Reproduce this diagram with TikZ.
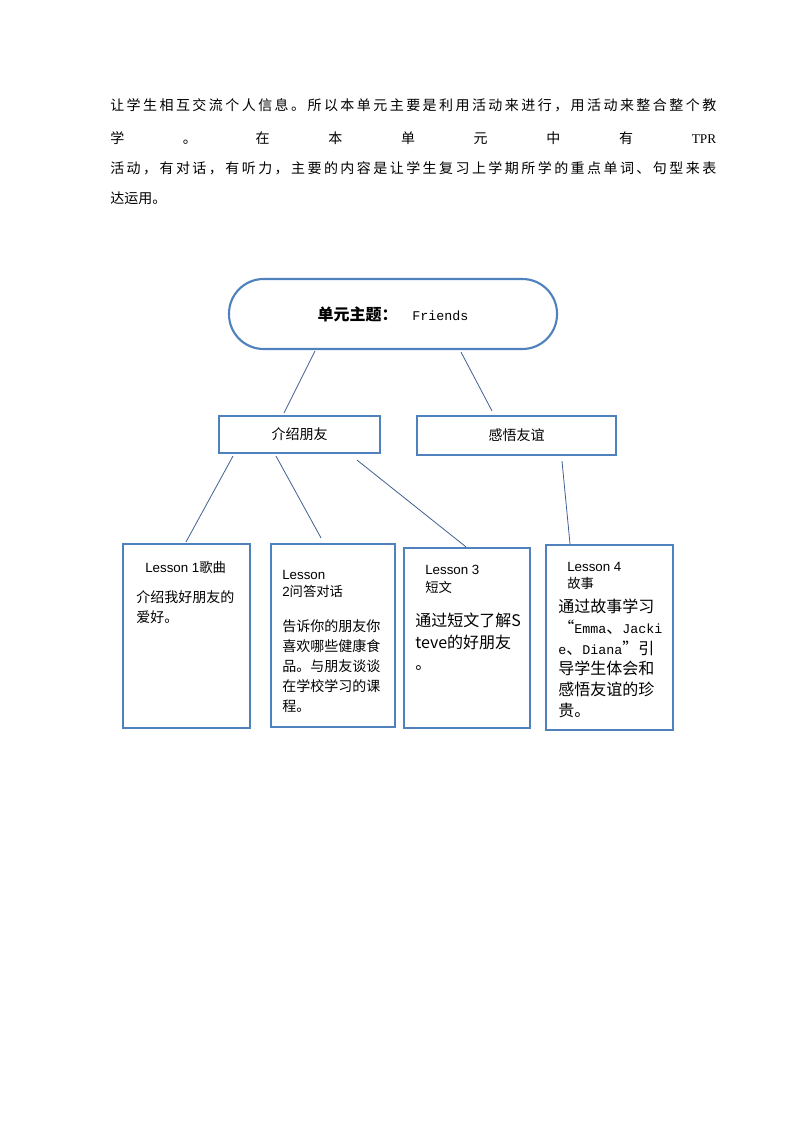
\documentclass[tikz,border=0pt]{standalone}
\usepackage{fontspec}
\setmainfont{Liberation Sans}
\newfontfamily\cjk{Noto Sans CJK SC}
\newfontfamily\simlatin{Liberation Mono}
\newfontfamily\simserif{Liberation Serif}
\usetikzlibrary{calc,positioning}
\definecolor{rahmenblau}{RGB}{79,129,189}
\definecolor{linienblau}{RGB}{62,96,145}
% Zeile im Blocksatz: Zeichen gleichmaessig verteilen
\def\sperrzeile#1{\hbox to 454.5pt{\sperrerst#1\relax}}
\def\sperrerst#1{#1\sperrweiter}
\def\sperrweiter#1{\ifx#1\relax\else\hfil#1\expandafter\sperrweiter\fi}

\begin{document}
\begin{tikzpicture}[x=0.75pt,y=-0.75pt,
        rahmen/.style={draw=rahmenblau,line width=1.6pt,inner sep=0pt},
        verbindung/.style={draw=linienblau,line width=0.6pt},
        zeile/.style={inner sep=0pt,anchor=west,font=\cjk\fontsize{10.5}{12}\selectfont},
        inhalt/.style={inner sep=0pt,anchor=north west,align=left}]
            \useasboundingbox (0,0) rectangle (794,1123);

            % Absatz oben
            \node[zeile] (absatz1) at (110,105)
                {\sperrzeile{让学生相互交流个人信息。所以本单元主要是利用活动来进行，用活动来整合整个教}};
            \node[zeile] (absatz2) at (110,138)
                {\hbox to 454.5pt{学\hfil 。\hfil 在\hfil 本\hfil 单\hfil 元\hfil 中\hfil 有\hfil {\simserif\fontsize{10}{12}\selectfont TPR}}};
            \node[zeile] (absatz3) at (110,168)
                {\sperrzeile{活动，有对话，有听力，主要的内容是让学生复习上学期所学的重点单词、句型来表}};
            \node[zeile] (absatz4) at (110,198) {达运用。};

            % Thema oben
            \node[rahmen,rounded corners=26pt,minimum width=246pt,minimum height=52.5pt] (thema) at (393,314)
                {{\cjk\bfseries\fontsize{12}{14}\selectfont 单元主题：}\hspace{11pt}{\simlatin\fontsize{10}{12}\selectfont Friends}};

            % Zweite Ebene
            \node[rahmen,minimum width=120.75pt,minimum height=27.75pt,font=\cjk\fontsize{10.5}{12}\selectfont] (freunde) at (299.5,434.5) {介绍朋友};
            \node[rahmen,minimum width=149.25pt,minimum height=29.25pt,font=\cjk\fontsize{10.5}{12}\selectfont] (freundschaft) at (516.5,435.5) {感悟友谊};

            % Lektionen
            \node[rahmen,minimum width=95.25pt,minimum height=138pt] (lektion1) at (186.5,636) {};
            \node[rahmen,minimum width=93pt,minimum height=137.25pt] (lektion2) at (333,635.5) {};
            \node[rahmen,minimum width=94.5pt,minimum height=135pt] (lektion3) at (467,638) {};
            \node[rahmen,minimum width=95.25pt,minimum height=138.75pt] (lektion4) at (609.5,637.5) {};

            % Texte in den Lektionen
            \node[inhalt,font=\fontsize{10}{12}\selectfont] (kopf1) at (145,561) {Lesson 1{\cjk 歌曲}};
            \node[inhalt,font=\cjk\fontsize{10.5}{15}\selectfont] (text1) at (136,590) {介绍我好朋友的\\爱好。};

            \node[inhalt,font=\fontsize{10}{12.75}\selectfont] (kopf2) at (282,570) {Lesson\\2{\cjk 问答对话}};
            \node[inhalt,font=\cjk\fontsize{10.5}{15}\selectfont] (text2) at (282,619)
                {告诉你的朋友你\\喜欢哪些健康食\\品。与朋友谈谈\\在学校学习的课\\程。};

            \node[inhalt,font=\fontsize{10}{13.5}\selectfont] (kopf3) at (425,565) {Lesson 3\\{\cjk 短文}};
            \node[inhalt,font=\cjk\fontsize{12}{16}\selectfont] (text3) at (415,613)
                {通过短文了解S\\teve的好朋友\\。};

            \node[inhalt,font=\fontsize{10}{12.75}\selectfont] (kopf4) at (567,562) {Lesson 4\\{\cjk 故事}};
            \node[inhalt,font=\cjk\fontsize{12}{15.5}\selectfont] (text4) at (558,599)
                {通过故事学习\\“{\simlatin\fontsize{10}{12}\selectfont Emma}、{\simlatin\fontsize{10}{12}\selectfont Jacki}\\{\simlatin\fontsize{10}{12}\selectfont e}、{\simlatin\fontsize{10}{12}\selectfont Diana}”引\\导学生体会和\\感悟友谊的珍\\贵。};

            % Verbindungen
            \draw[verbindung] ($(thema.south)+(-78,1)$) -- ($(freunde.north)+(-15.5,-2)$);
            \draw[verbindung] ($(thema.south)+(68,2)$) -- ($(freundschaft.north)+(-24.5,-4)$);

            \draw[verbindung] ($(freunde.south)+(-66.5,2)$) -- ($(lektion1.north)+(-0.5,-1)$);
            \draw[verbindung] ($(freunde.south)+(-23.5,2)$) -- ($(lektion2.north)+(-12,-5)$);
            \draw[verbindung] ($(freunde.south)+(57.5,6)$) -- ($(lektion3.north)+(-1,0)$);

            \draw[verbindung] ($(freundschaft.south)+(45.5,5)$) -- ($(lektion4.north)+(-39.5,0)$);
        \end{tikzpicture}
\end{document}
